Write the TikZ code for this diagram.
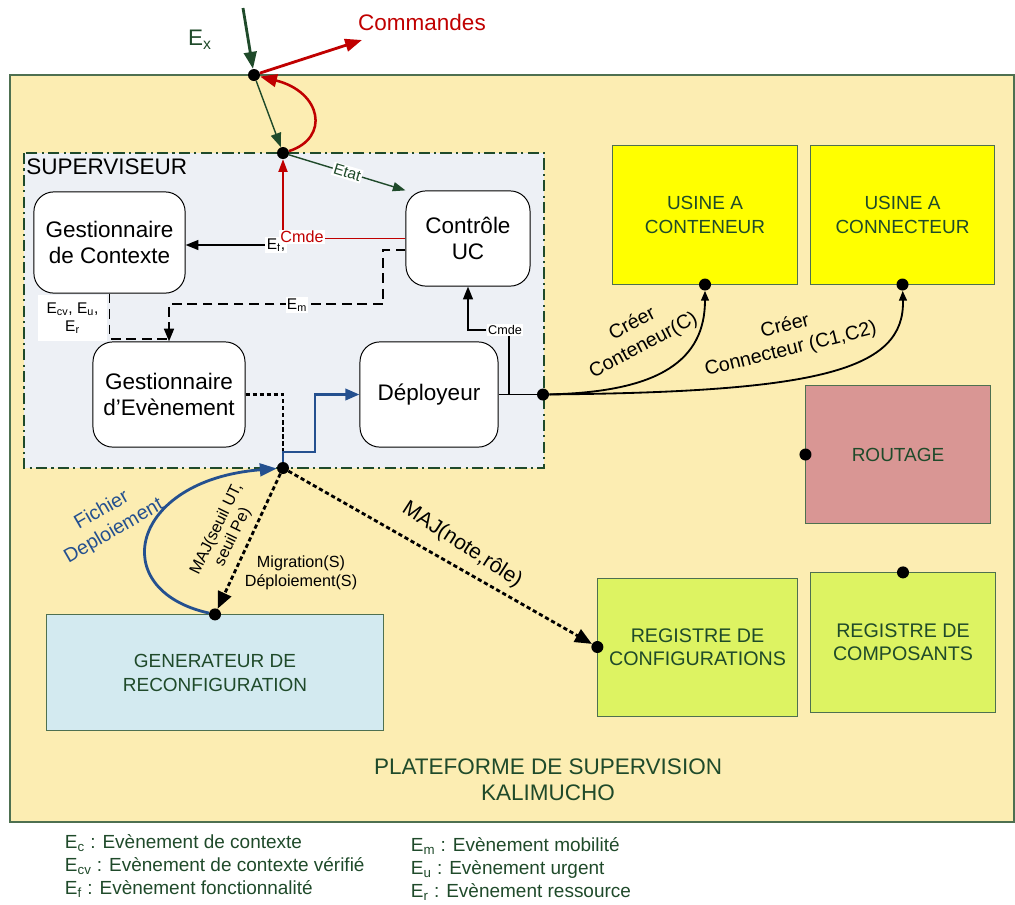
\documentclass[tikz,border=0pt]{standalone}
\usepackage{fontspec}
\setmainfont{Liberation Sans}
\usetikzlibrary{arrows.meta}

\definecolor{fond}{HTML}{FCEDB2}
\definecolor{gris}{HTML}{EDF0F5}
\definecolor{bord}{HTML}{4E7050}
\definecolor{vertf}{HTML}{1F4A2A}
\definecolor{jaune}{HTML}{FFFF00}
\definecolor{rose}{HTML}{D99694}
\definecolor{vertclair}{HTML}{DDF362}
\definecolor{bleuclair}{HTML}{D3EAF0}
\definecolor{rouge}{HTML}{C00000}
\definecolor{bleu}{HTML}{24508F}

\begin{document}
\begin{tikzpicture}[x=0.025cm, y=-0.025cm,
  box/.style={draw, line width=0.7pt, rounded corners=0.5cm, fill=white, align=center,
    inner sep=0pt, font=\fontsize{16}{19}\selectfont},
  bloc/.style={draw=bord, line width=0.7pt, align=center, inner sep=0pt, text=vertf,
    font=\fontsize{13.5}{17}\selectfont},
  dot/.style={circle, fill=black, inner sep=0pt, minimum size=0.3cm},
  lbl/.style={fill=white, inner sep=1pt, font=\fontsize{11}{13}\selectfont},
  gfl/.style={-{Triangle[length=12pt,width=9pt]}},
  pfl/.style={-{Triangle[length=7pt,width=5.5pt]}},
  tirets/.style={line width=1.4pt, dash pattern=on 7pt off 4pt},
  points/.style={line width=2pt, dash pattern=on 3pt off 2pt},
  legende/.style={anchor=west, text=vertf, font=\fontsize{13.5}{15}\selectfont}]

  \useasboundingbox (0,0) rectangle (1015,904);

  % plateforme et superviseur
  \draw[fill=fond, draw=bord, line width=0.8pt] (10,75) rectangle (1014,822);
  \draw[fill=gris, draw=vertf, line width=1pt, dash pattern=on 8pt off 3pt on 1.5pt off 3pt]
    (24,153) rectangle (544,468);
  \node[anchor=north west, inner sep=0pt, font=\fontsize{16}{19}\selectfont] (sup) at (26,158) {SUPERVISEUR};
  \node[text=vertf, align=center, font=\fontsize{16}{18.5}\selectfont] (plat) at (548,780)
    {PLATEFORME DE SUPERVISION\\KALIMUCHO};

  % composants du superviseur
  \node[box, minimum width=3.78cm, minimum height=2.53cm] (gcx) at (109.5,242.5) {Gestionnaire\\de Contexte};
  \node[box, minimum width=3.1cm, minimum height=2.38cm] (ctrl) at (468,238.5) {Contrôle\\UC};
  \node[box, minimum width=3.8cm, minimum height=2.63cm] (gev) at (169,394.5) {Gestionnaire\\d’Evènement};
  \node[box, minimum width=3.45cm, minimum height=2.63cm] (depl) at (429,394.5) {Déployeur};

  % blocs de la plateforme
  \node[bloc, fill=jaune, minimum width=4.6cm, minimum height=3.45cm] (uct) at (705,215) {USINE A\\CONTENEUR};
  \node[bloc, fill=jaune, minimum width=4.58cm, minimum height=3.45cm] (ucn) at (902.5,215) {USINE A\\CONNECTEUR};
  \node[bloc, fill=rose, minimum width=4.6cm, minimum height=3.43cm] (rout) at (898,454.5) {ROUTAGE};
  \node[bloc, fill=vertclair, minimum width=4.98cm, minimum height=3.45cm,
    font=\fontsize{14}{16.5}\selectfont] (rcf) at (697.5,647) {REGISTRE DE\\CONFIGURATIONS};
  \node[bloc, fill=vertclair, minimum width=4.6cm, minimum height=3.48cm,
    font=\fontsize{14}{16.5}\selectfont] (rcp) at (903,642.5) {REGISTRE DE\\COMPOSANTS};
  \node[bloc, fill=bleuclair, minimum width=8.4cm, minimum height=2.88cm] (gen) at (215,672.5)
    {GENERATEUR DE\\RECONFIGURATION};

  % points de connexion
  \node[dot] (p1) at (254,75) {};
  \node[dot] (p2) at (283,153) {};
  \node[dot] (p3) at (283,468) {};
  \node[dot] (p4) at (543,394.5) {};
  \node[dot] (d1) at (uct.south) {};
  \node[dot] (d2) at (ucn.south) {};
  \node[dot] (d3) at (rout.west) {};
  \node[dot] (d4) at (rcf.west) {};
  \node[dot] (d5) at (rcp.north) {};
  \node[dot] (d6) at (gen.north) {};

  % entree / sortie
  \coordinate (ex) at (243,8);
  \coordinate (cmd) at (362,40);
  \draw[vertf, line width=2pt, gfl] (ex) -- (p1);
  \draw[rouge, line width=2pt, gfl] (p1) -- (cmd);
  \node[text=vertf, font=\fontsize{16}{19}\selectfont] at (200,40) {E\textsubscript{x}};
  \node[text=rouge, font=\fontsize{16}{19}\selectfont] at (422,22) {Commandes};
  \draw[vertf, line width=1pt, -{Triangle[length=10pt,width=7.5pt]}] (p1) -- (p2);
  \draw[rouge, line width=1.8pt, gfl] (p2) .. controls (330,138) and (322,92) .. (p1);
  \draw[vertf, line width=1pt, -{Triangle[length=9pt,width=6.5pt]}] (p2) -- (ctrl.north west)
    node[lbl, pos=0.5, sloped, text=vertf] {Etat};

  % flux internes
  \node[lbl] (ef) at (276,245) {E\textsubscript{f},};
  \draw[line width=1pt, -{Triangle[length=9pt,width=7pt]}] (ef.west) -- (gcx.east |- ef.west);
  \draw[rouge, line width=1pt, -{Triangle[length=9pt,width=6.5pt]}] (ctrl.west) -- (p2 |- ctrl.west) -- (p2);
  \node[lbl, text=rouge, font=\fontsize{11.5}{13}\selectfont] (cmr) at (302,237) {Cmde};

  \draw[tirets, -{Triangle[length=9pt,width=7pt]}] (ctrl.190) -| (383,304) -| (gev.north);
  \node[lbl] (em) at (297,305) {E\textsubscript{m}};
  \draw[tirets] (gcx.south) |- ([yshift=2pt]gev.north);
  \node[lbl, align=center, minimum width=1.73cm, minimum height=1.15cm] (ecv) at (72.5,318)
    {E\textsubscript{cv}, E\textsubscript{u},\\E\textsubscript{r}};

  \draw[points] (gev.east) -| (p3);
  \draw[bleu, line width=2pt, -{Triangle[length=10pt,width=8pt]}] (p3) |- (315,452) |- (depl.west);

  \coordinate (br) at (509,394.5);
  \draw[line width=1pt] (depl.east) -- (p4);
  \node[lbl, font=\fontsize{9}{11}\selectfont] (cm2) at (505,330) {Cmde};
  \draw[line width=1pt] (br) -- (br |- cm2.south);
  \draw[line width=1pt, -{Triangle[length=9pt,width=7pt]}] (cm2.west) -| (ctrl.south);

  % vers les usines
  \draw[line width=1.3pt, pfl] (p4) .. controls (660,392) and (705,360) .. (d1);
  \draw[line width=1.3pt, pfl] (p4) .. controls (820,392) and (905,370) .. (d2);
  \node[rotate=28, align=center, font=\fontsize{14}{17}\selectfont] at (638,335) {Créer\\Conteneur(C)};
  \node[rotate=14, align=center, font=\fontsize{14}{17}\selectfont] at (788,338) {Créer\\Connecteur (C1,C2)};

  % vers le generateur et les registres
  \draw[points, -{Triangle[length=12pt,width=10pt]}] (p3) -- (d6);
  \draw[points, -{Triangle[length=12pt,width=10pt]}] (p3) -- (d4);
  \draw[bleu, line width=2pt, gfl] (d6) .. controls (105,590) and (130,480) .. (p3);
  \node[rotate=30, align=center, text=bleu, font=\fontsize{14}{17}\selectfont] at (108,521) {Fichier\\Deploiement};
  \node[rotate=64, align=center, font=\fontsize{11.5}{13}\selectfont] at (225,533) {MAJ(seuil UT,\\seuil Pe)};
  \node[align=center, font=\fontsize{11.5}{13.5}\selectfont] at (301,573) {Migration(S)\\Déploiement(S)};
  \node[rotate=-33, font=\fontsize{15}{17}\selectfont] at (462,545) {MAJ(note,rôle)};

  % legende
  \node[legende] at (60,843) {E\textsubscript{c} : Evènement de contexte};
  \node[legende] at (60,866) {E\textsubscript{cv} : Evènement de contexte vérifié};
  \node[legende] at (60,889) {E\textsubscript{f} : Evènement fonctionnalité};
  \node[legende] at (406,846) {E\textsubscript{m} : Evènement mobilité};
  \node[legende] at (406,869) {E\textsubscript{u} : Evènement urgent};
  \node[legende] at (406,892) {E\textsubscript{r} : Evènement ressource};
\end{tikzpicture}
\end{document}
